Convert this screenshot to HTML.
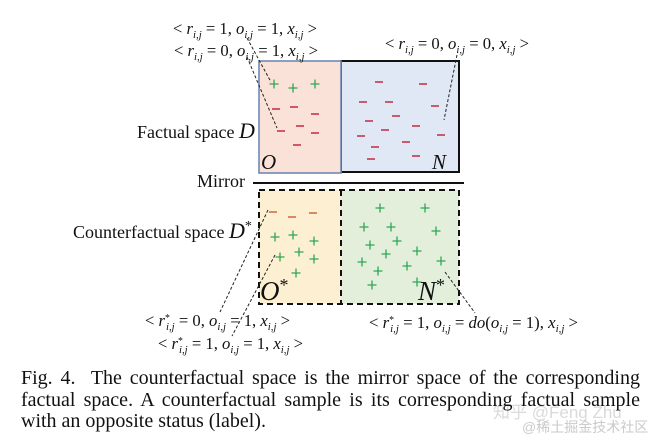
<!DOCTYPE html>
<html>
<head>
<meta charset="utf-8">
<style>
html,body{margin:0;padding:0;background:#fff;}
#wrap{position:relative;width:658px;height:447px;overflow:hidden;}
svg{display:block;position:absolute;left:0;top:0;}
.m{font-family:"Liberation Serif","DejaVu Serif",serif;font-size:17px;fill:#111;}
.i{font-style:italic;}
.lab{font-family:"Liberation Serif",serif;font-size:18px;fill:#111;}
.cap{position:absolute;left:21px;width:619px;font-family:"Liberation Serif",serif;font-size:20px;line-height:21.5px;color:#111;text-align:justify;text-align-last:justify;white-space:normal;}
.cap.last{text-align-last:left;}
</style>
</head>
<body>
<div id="wrap">
<svg width="658" height="447" viewBox="0 0 658 447" xmlns="http://www.w3.org/2000/svg">
<rect width="658" height="447" fill="#fff"/>

<!-- top boxes -->
<rect x="341" y="61" width="118" height="111" fill="#dfe8f4" stroke="#111" stroke-width="2"/>
<rect x="259" y="61" width="82" height="112" fill="#fbe2d8" stroke="#7088b6" stroke-width="1.6"/>

<!-- mirror line -->
<line x1="253" y1="183" x2="464" y2="183" stroke="#111" stroke-width="2"/>

<!-- bottom boxes -->
<rect x="259" y="190" width="82" height="114" fill="#fdf0d2"/>
<rect x="341" y="190" width="118" height="114" fill="#e3efdb"/>
<rect x="259" y="190" width="200" height="114" fill="none" stroke="#111" stroke-width="2" stroke-dasharray="6,4"/>
<line x1="341" y1="190" x2="341" y2="304" stroke="#111" stroke-width="2" stroke-dasharray="6,4"/>

<!-- plus markers green -->
<g stroke="#2ea655" stroke-width="1.3" fill="none">
<path d="M269.5 84h9M274 79.5v9 M288.5 88h9M293 83.5v9 M310.5 84h9M315 79.5v9"/>
<path d="M270.5 237h9M275 232.5v9 M288.5 235h9M293 230.5v9 M309.5 241h9M314 236.5v9 M275.5 257h9M280 252.5v9 M294.5 252h9M299 247.5v9 M309.5 259h9M314 254.5v9 M291.5 273h9M296 268.5v9"/>
<path d="M375.5 208h9M380 203.5v9 M420.5 208h9M425 203.5v9 M359.5 227h9M364 222.5v9 M386.5 227h9M391 222.5v9 M431.5 231h9M436 226.5v9 M392.5 241h9M397 236.5v9 M365.5 245h9M370 240.5v9 M412.5 251h9M417 246.5v9 M381.5 254h9M386 249.5v9 M357.5 262h9M362 257.5v9 M436.5 261h9M441 256.5v9 M402.5 266h9M407 261.5v9 M373.5 271h9M378 266.5v9 M367.5 285h9M372 280.5v9 M412.5 282h9M417 277.5v9"/>
</g>

<!-- minus markers red -->
<g stroke="#c42a40" stroke-width="1.6" fill="none">
<path d="M272 109h8 M290 107h8 M311 114h8 M296 126h8 M277 131h8 M311 133h8 M293 145h8"/>
<path d="M375 82h8 M419 84h8 M359 102h8 M385 102h8 M431 106h8 M392 116h8 M365 121h8 M412 126h8 M381 130h8 M357 136h8 M437 135h8 M402 142h8 M371 147h8 M412 156h8 M367 159h8"/>
</g>
<g stroke="#d0653e" stroke-width="1.6" fill="none">
<path d="M269 212h8 M288 217h8 M309 213h8"/>
</g>

<!-- script letters -->
<text x="261" y="169" font-family="Liberation Serif,serif" font-style="italic" font-size="21" fill="#111">O</text>
<text x="432" y="169" font-family="Liberation Serif,serif" font-style="italic" font-size="21" fill="#111">N</text>
<text x="260" y="300" font-family="Liberation Serif,serif" font-style="italic" font-size="27" fill="#111">O<tspan font-size="18" font-style="normal" dy="-9">*</tspan></text>
<text x="418" y="300" font-family="Liberation Serif,serif" font-style="italic" font-size="27" fill="#111">N<tspan font-size="18" font-style="normal" dy="-9">*</tspan></text>

<!-- leader lines -->
<g stroke="#222" stroke-width="1" stroke-dasharray="3,2" fill="none">
<path d="M247 38L271 82"/>
<path d="M247 57L277 128"/>
<path d="M457 55L444 120"/>
<path d="M268 210L220 312"/>
<path d="M275 255L232 336"/>
<path d="M445 272L475 313"/>
</g>

<!-- side labels -->
<text class="lab" x="137" y="138">Factual space <tspan font-style="italic" font-size="22">D</tspan></text>
<text class="lab" x="197" y="187">Mirror</text>
<text class="lab" x="73" y="238">Counterfactual space <tspan font-style="italic" font-size="22">D</tspan><tspan font-size="14" dy="-8">*</tspan></text>

<!-- math labels top -->
<text class="m" x="173" y="34" textLength="144" lengthAdjust="spacingAndGlyphs">&lt; <tspan class="i">r</tspan><tspan class="i" font-size="11" dy="4">i,j</tspan><tspan dy="-4"> = 1, </tspan><tspan class="i">o</tspan><tspan class="i" font-size="11" dy="4">i,j</tspan><tspan dy="-4"> = 1, </tspan><tspan class="i">x</tspan><tspan class="i" font-size="11" dy="4">i,j</tspan><tspan dy="-4"> &gt;</tspan></text>
<text class="m" x="174" y="56" textLength="144" lengthAdjust="spacingAndGlyphs">&lt; <tspan class="i">r</tspan><tspan class="i" font-size="11" dy="4">i,j</tspan><tspan dy="-4"> = 0, </tspan><tspan class="i">o</tspan><tspan class="i" font-size="11" dy="4">i,j</tspan><tspan dy="-4"> = 1, </tspan><tspan class="i">x</tspan><tspan class="i" font-size="11" dy="4">i,j</tspan><tspan dy="-4"> &gt;</tspan></text>
<text class="m" x="385" y="49" textLength="144" lengthAdjust="spacingAndGlyphs">&lt; <tspan class="i">r</tspan><tspan class="i" font-size="11" dy="4">i,j</tspan><tspan dy="-4"> = 0, </tspan><tspan class="i">o</tspan><tspan class="i" font-size="11" dy="4">i,j</tspan><tspan dy="-4"> = 0, </tspan><tspan class="i">x</tspan><tspan class="i" font-size="11" dy="4">i,j</tspan><tspan dy="-4"> &gt;</tspan></text>

<!-- math labels bottom -->
<text class="m" x="145" y="326" textLength="145" lengthAdjust="spacingAndGlyphs">&lt; <tspan class="i">r</tspan><tspan font-size="10" dy="-5">*</tspan><tspan class="i" font-size="11" dx="-4" dy="9">i,j</tspan><tspan dy="-4"> = 0, </tspan><tspan class="i">o</tspan><tspan class="i" font-size="11" dy="4">i,j</tspan><tspan dy="-4"> = 1, </tspan><tspan class="i">x</tspan><tspan class="i" font-size="11" dy="4">i,j</tspan><tspan dy="-4"> &gt;</tspan></text>
<text class="m" x="158" y="349" textLength="145" lengthAdjust="spacingAndGlyphs">&lt; <tspan class="i">r</tspan><tspan font-size="10" dy="-5">*</tspan><tspan class="i" font-size="11" dx="-4" dy="9">i,j</tspan><tspan dy="-4"> = 1, </tspan><tspan class="i">o</tspan><tspan class="i" font-size="11" dy="4">i,j</tspan><tspan dy="-4"> = 1, </tspan><tspan class="i">x</tspan><tspan class="i" font-size="11" dy="4">i,j</tspan><tspan dy="-4"> &gt;</tspan></text>
<text class="m" x="369" y="328" textLength="209" lengthAdjust="spacingAndGlyphs">&lt; <tspan class="i">r</tspan><tspan font-size="10" dy="-5">*</tspan><tspan class="i" font-size="11" dx="-4" dy="9">i,j</tspan><tspan dy="-4"> = 1, </tspan><tspan class="i">o</tspan><tspan class="i" font-size="11" dy="4">i,j</tspan><tspan dy="-4"> = </tspan><tspan class="i">do</tspan><tspan>(</tspan><tspan class="i">o</tspan><tspan class="i" font-size="11" dy="4">i,j</tspan><tspan dy="-4"> = 1), </tspan><tspan class="i">x</tspan><tspan class="i" font-size="11" dy="4">i,j</tspan><tspan dy="-4"> &gt;</tspan></text>

<!-- watermark -->
<text x="493" y="418" font-family="Liberation Sans,Noto Sans CJK SC,sans-serif" font-size="17" fill="#d4d4d4" fill-opacity="0.85">知乎 @Feng Zhu</text>
<text x="522" y="432" font-family="Liberation Sans,Noto Sans CJK SC,sans-serif" font-size="14" fill="#c4c4c4" fill-opacity="0.9">@稀土掘金技术社区</text>
</svg>

<div class="cap" style="top:367.5px;">Fig. 4.&nbsp; The counterfactual space is the mirror space of the corresponding</div>
<div class="cap" style="top:389.5px;">factual space. A counterfactual sample is its corresponding factual sample</div>
<div class="cap last" style="top:410.5px;">with an opposite status (label).</div>
</div>
</body>
</html>
